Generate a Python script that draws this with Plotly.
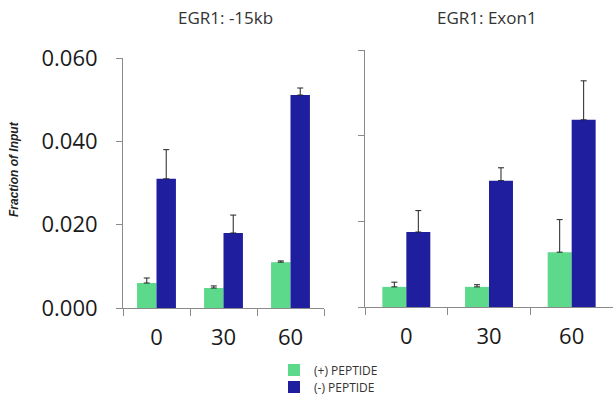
import plotly.graph_objects as go

W, H = 613, 396

categories = ["0", "30", "60"]

# EGR1: -15kb
plus_15kb = [0.0060, 0.0048, 0.0110]
plus_15kb_err = [0.0012, 0.0005, 0.0003]
minus_15kb = [0.0310, 0.0180, 0.0511]
minus_15kb_err = [0.0070, 0.0043, 0.0017]

# EGR1: Exon1
plus_ex1 = [0.0047, 0.0047, 0.0128]
plus_ex1_err = [0.0011, 0.0005, 0.0076]
minus_ex1 = [0.0175, 0.0295, 0.0437]
minus_ex1_err = [0.0050, 0.0030, 0.0091]

y_ticks = [0.0, 0.02, 0.04, 0.06]
y_ticklabels = ["0.000", "0.020", "0.040", "0.060"]

GREEN = "#5CD98A"
BLUE = "#1E1E9E"
ERR = "#222222"
AX = "#8a8a8a"

def err(vals):
    return dict(type="data", array=vals, arrayminus=[0] * len(vals), symmetric=False,
                color=ERR, thickness=1, width=3)

fig = go.Figure()
fig.add_trace(go.Bar(x=categories, y=plus_15kb, error_y=err(plus_15kb_err), marker_color=GREEN,
                     name="(+) PEPTIDE", legend="legend", xaxis="x", yaxis="y"))
fig.add_trace(go.Bar(x=categories, y=minus_15kb, error_y=err(minus_15kb_err), marker_color=BLUE,
                     name="(-) PEPTIDE", legend="legend2", xaxis="x", yaxis="y"))
fig.add_trace(go.Bar(x=categories, y=plus_ex1, error_y=err(plus_ex1_err), marker_color=GREEN,
                     name="(+) PEPTIDE", showlegend=False, xaxis="x2", yaxis="y2"))
fig.add_trace(go.Bar(x=categories, y=minus_ex1, error_y=err(minus_ex1_err), marker_color=BLUE,
                     name="(-) PEPTIDE", showlegend=False, xaxis="x2", yaxis="y2"))

for t in fig.data:
    t.marker.line = dict(width=0)

font_ticks = dict(family="Open Sans, Liberation Sans, sans-serif", size=22, color="#1a1a1a")

xcommon = dict(type="category", showline=True, linecolor=AX, linewidth=1, ticks="outside",
               tickson="boundaries", ticklen=7, tickcolor=AX, tickfont=font_ticks,
               ticklabelstandoff=10,
               showgrid=False, zeroline=False, range=[-0.5, 2.5], fixedrange=True,
               automargin=False)
ycommon = dict(range=[0, 0.06], showline=True, linecolor=AX, linewidth=1, ticks="outside",
               ticklen=6, tickcolor=AX, tickvals=y_ticks, showgrid=False, zeroline=False,
               automargin=False)

legend_font = dict(family="Open Sans, Liberation Sans, sans-serif", size=12, color="#333333")
legend_common = dict(xanchor="left", yanchor="middle", font=legend_font,
                     bgcolor="rgba(0,0,0,0)", itemwidth=30)

fig.update_layout(
    width=W, height=H,
    margin=dict(l=0, r=0, t=0, b=0, autoexpand=False),
    paper_bgcolor="white", plot_bgcolor="white",
    barmode="group", bargap=0.42, bargroupgap=0,
    xaxis=dict(domain=[123 / W, 324 / W], anchor="y", **xcommon),
    yaxis=dict(domain=[1 - 308 / H, 1 - 58 / H], anchor="x", ticktext=y_ticklabels,
               tickfont=font_ticks, ticklabelstandoff=14, **ycommon),
    xaxis2=dict(domain=[365 / W, 1.0], anchor="y2", **xcommon),
    yaxis2=dict(domain=[1 - 307 / H, 1 - 50 / H], anchor="x2", showticklabels=False, **ycommon),
    showlegend=True,
    legend=dict(x=274 / W, y=1 - 370 / H, **legend_common),
    legend2=dict(x=274 / W, y=1 - 387 / H, **legend_common),
    annotations=[
        dict(text="EGR1: -15kb", x=225 / W, y=1 - 17 / H, xref="paper", yref="paper",
             xanchor="center", yanchor="middle", showarrow=False,
             font=dict(family="Open Sans, sans-serif", size=17, color="#333333")),
        dict(text="EGR1: Exon1", x=487 / W, y=1 - 17 / H, xref="paper", yref="paper",
             xanchor="center", yanchor="middle", showarrow=False,
             font=dict(family="Open Sans, sans-serif", size=17, color="#333333")),
        dict(text="<i><b>Fraction of Input</b></i>", x=14 / W, y=1 - 169 / H, xref="paper", yref="paper",
             xanchor="center", yanchor="middle", showarrow=False, textangle=-90,
             font=dict(family="Liberation Sans, Arial, sans-serif", size=12, color="#222222")),
    ],
)

fig.write_html("out.html", config={"displayModeBar": False},
               post_script="document.body.style.margin='0';document.body.style.overflow='hidden';")
